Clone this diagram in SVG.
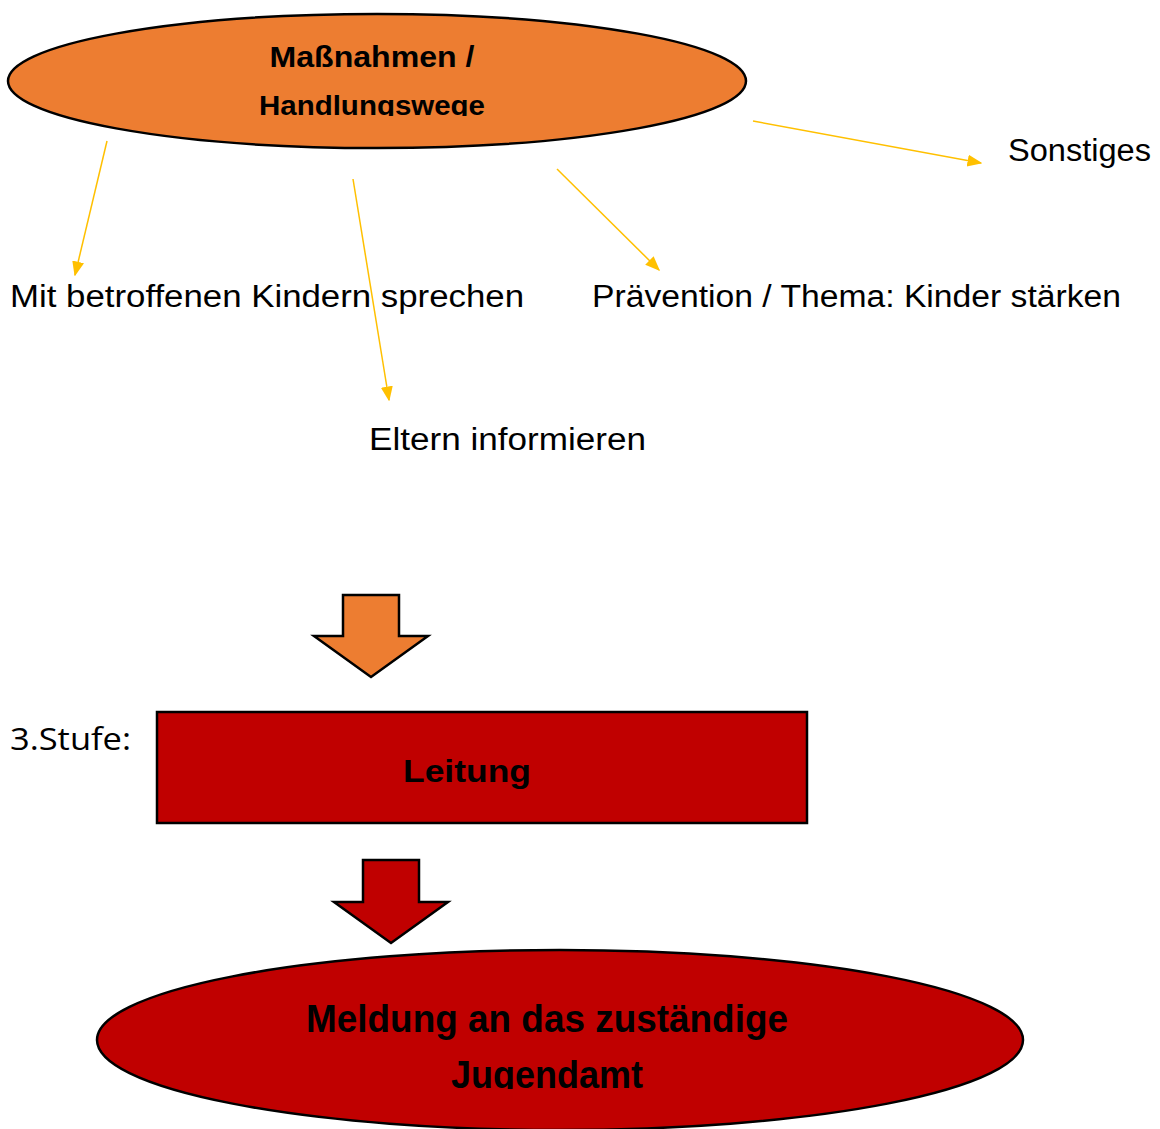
<svg xmlns="http://www.w3.org/2000/svg" width="1160" height="1129" viewBox="0 0 1160 1129">
<defs>
<style>
.lbl{font-family:"Liberation Sans","DejaVu Sans",sans-serif;font-size:31px;fill:#000}
.bold{font-family:"Liberation Sans","DejaVu Sans",sans-serif;font-weight:bold;fill:#000;text-anchor:middle}
.conn{stroke:#FFC000;stroke-width:1.5;fill:none;marker-end:url(#ah)}
.blk{stroke:#000;stroke-width:2.5;stroke-linejoin:miter}
</style>
<marker id="ah" viewBox="0 0 10 10" refX="9" refY="5" markerWidth="15" markerHeight="15" markerUnits="userSpaceOnUse" orient="auto">
<path d="M0,1 L10,5 L0,9 Z" fill="#FFC000"/>
</marker>
<clipPath id="c1"><rect x="0" y="0" width="1160" height="116"/></clipPath>
<clipPath id="c2"><rect x="0" y="0" width="1160" height="1089"/></clipPath>
</defs>
<rect width="1160" height="1129" fill="#fff"/>
<g id="massnahmen">
<ellipse cx="377" cy="81" rx="369" ry="67" fill="#ED7D31" stroke="#000" stroke-width="2.5"/>
<text class="bold" x="372" y="67" font-size="29" textLength="205" lengthAdjust="spacingAndGlyphs">Maßnahmen /</text>
<text class="bold" x="372" y="115" font-size="28" textLength="226" lengthAdjust="spacingAndGlyphs" clip-path="url(#c1)">Handlungswege</text>
</g>
<g id="connectors">
<line class="conn" x1="107" y1="141" x2="75" y2="275"/>
<line class="conn" x1="353" y1="179" x2="389" y2="400"/>
<line class="conn" x1="557" y1="169" x2="659" y2="270"/>
<line class="conn" x1="753" y1="121" x2="981" y2="163"/>
</g>
<g id="kinder"><text class="lbl" x="10" y="307" textLength="514" lengthAdjust="spacingAndGlyphs">Mit betroffenen Kindern sprechen</text></g>
<g id="praevention"><text class="lbl" x="592" y="307" textLength="529" lengthAdjust="spacingAndGlyphs">Prävention / Thema: Kinder stärken</text></g>
<g id="sonstiges"><text class="lbl" x="1008" y="161" textLength="143" lengthAdjust="spacingAndGlyphs">Sonstiges</text></g>
<g id="eltern"><text class="lbl" x="369" y="450" textLength="277" lengthAdjust="spacingAndGlyphs">Eltern informieren</text></g>
<g id="arrow1">
<path class="blk" d="M343,595 L399,595 L399,636 L428,636 L371,677 L314,636 L343,636 Z" fill="#ED7D31"/>
</g>
<g id="stufe"><text x="10" y="750" font-family="'Open Sans','Liberation Sans',sans-serif" font-size="31" fill="#000" textLength="121" lengthAdjust="spacingAndGlyphs">3.Stufe:</text></g>
<g id="leitung">
<rect x="157" y="712" width="650" height="111" fill="#C00000" stroke="#000" stroke-width="2.5"/>
<text class="bold" x="467" y="782" font-size="31" textLength="128" lengthAdjust="spacingAndGlyphs">Leitung</text>
</g>
<g id="arrow2">
<path class="blk" d="M363,860 L419,860 L419,902 L448,902 L391,943 L334,902 L363,902 Z" fill="#C00000"/>
</g>
<g id="jugendamt">
<ellipse cx="560" cy="1040" rx="463" ry="90" fill="#C00000" stroke="#000" stroke-width="2.5"/>
<text class="bold" x="547" y="1032" font-size="38" textLength="482" lengthAdjust="spacingAndGlyphs">Meldung an das zuständige</text>
<text class="bold" x="547" y="1088" font-size="38" textLength="192" lengthAdjust="spacingAndGlyphs" clip-path="url(#c2)">Jugendamt</text>
</g>
</svg>
